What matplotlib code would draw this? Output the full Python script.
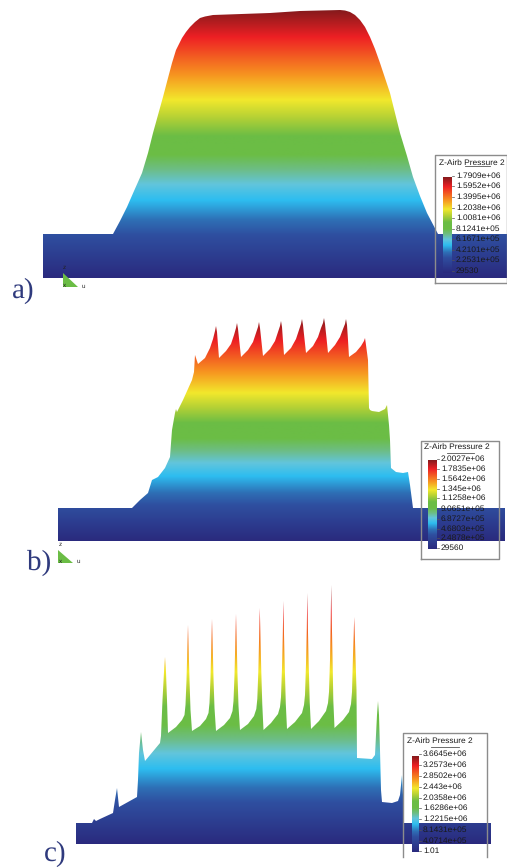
import numpy as np
import matplotlib
matplotlib.use('Agg')
import matplotlib.pyplot as plt
from matplotlib.colors import LinearSegmentedColormap
from matplotlib.patches import Polygon

plt.rcParams['font.family'] = ['Liberation Sans', 'DejaVu Sans']
plt.rcParams['text.hinting'] = 'no_hinting'

# outlines, in pixels of the reference
a_x = [43, 113, 120, 127, 134, 142, 148, 153, 158, 163, 168, 172, 176, 182, 186, 190, 195, 200, 205, 213,
       270, 300, 340, 345, 350, 355, 360, 365, 370, 375, 380, 385, 390, 395, 400, 407, 413, 420, 427, 438, 507]
a_y = [234, 234, 221, 207, 191, 173, 153, 133, 115, 97, 78, 63, 50, 38, 32, 27, 22, 18, 16.5, 15,
       13, 11, 10, 10.5, 12, 15, 20, 27, 37, 49, 63, 78, 93, 113, 133, 156, 177, 196, 213, 234, 234]

b_x = [58, 132, 140, 148, 152, 158, 165, 170, 172, 175, 176, 177, 183, 192, 194, 195, 196, 198,
       205, 210, 213, 215, 216, 217, 218, 219,
       226, 231, 234, 236, 237, 238, 239.5, 241,
       248, 253, 256, 258, 259, 260, 261.5, 263,
       270, 275, 278, 280, 281, 282, 283, 284,
       291, 296, 299, 301, 302, 303, 304.5, 306,
       313, 318, 321, 323, 324, 325, 326.5, 328,
       335, 340, 343, 345, 346, 347, 348, 349,
       356, 361, 364, 365, 366, 368, 369, 370, 372, 379, 385, 387,
       389, 390, 391, 396, 403, 408, 410, 413, 505]
b_y = [508, 508, 500, 493, 480, 477, 468, 457, 430, 413, 409, 412, 400, 380, 372, 355, 358, 364,
       358, 348, 339, 331, 326, 332, 345, 358,
       351, 344, 335, 328, 323, 329, 343, 357,
       350, 342, 333, 327, 322, 328, 342, 356,
       349, 341, 332, 326, 321, 327, 341, 355,
       348, 339, 330, 324, 319, 325, 339, 353,
       346, 337, 328, 323, 318, 324, 338, 353,
       345, 337, 329, 324, 319, 325, 340, 357,
       352, 346, 341, 338, 345, 360, 408, 410, 411, 412, 409, 405,
       425, 440, 468, 472, 473, 472, 485, 508, 508]

c_x = [76, 92, 94, 96, 100, 113, 115, 117, 119, 137, 138, 139, 141, 143, 145, 160, 161, 162.5,
       164, 165, 166, 167, 168,
       176, 182, 184.5, 185.5, 186.5, 187.3, 188, 188.7, 189.5, 190.5, 192,
       200, 206, 208.5, 209.5, 210.5, 211.3, 212, 212.7, 213.5, 214.5, 216,
       224, 230, 232.5, 233.5, 234.5, 235.3, 236, 236.7, 237.5, 238.5, 240,
       248, 254, 256.3, 257.3, 258.3, 259.1, 259.8, 260.5, 261.3, 262.3, 263.5,
       271, 278, 280, 281, 282, 282.8, 283.4, 284, 284.8, 285.8, 287,
       295, 302, 304, 305, 306, 306.8, 307.3, 307.9, 308.7, 309.7, 311,
       319, 326, 328, 329, 330, 330.7, 331.2, 331.8, 332.6, 333.3, 334.5,
       343, 349, 351, 352, 353, 353.7, 354.2, 354.8, 355.6, 356.5, 357,
       372, 375, 376, 377, 378, 379, 380, 381, 382, 392, 398, 400, 401, 402, 403, 404, 491]
c_y = [823, 823, 819, 821, 819, 813, 800, 788, 807, 797, 780, 753, 732, 750, 761, 743, 736, 700,
       672, 657, 672, 700, 733,
       727, 720, 715, 705, 680, 650, 625, 650, 680, 710, 731,
       726, 719, 713, 703, 678, 645, 619, 645, 678, 708, 731,
       725, 718, 711, 701, 675, 642, 614, 642, 675, 706, 730,
       724, 716, 709, 699, 672, 638, 608, 638, 672, 705, 730,
       723, 714, 707, 697, 668, 634, 601, 634, 668, 704, 729,
       722, 713, 705, 695, 664, 628, 593, 628, 664, 702, 729,
       721, 711, 703, 692, 660, 622, 585, 622, 660, 700, 728,
       720, 712, 704, 692, 655, 635, 617, 635, 660, 690, 758,
       759, 755, 735, 715, 701, 715, 750, 790, 802, 803, 801, 795, 785, 775, 795, 823, 823]

# bottom and top of each colour ramp
ramp_a = [278, 10]
ramp_b = [541, 318]
ramp_c = [844, 585]

a_ticks = ['1.7909e+06', '1.5952e+06', '1.3995e+06', '1.2038e+06', '1.0081e+06',
           '8.1241e+05', '6.1671e+05', '4.2101e+05', '2.2531e+05', '29530']
b_ticks = ['2.0027e+06', '1.7835e+06', '1.5642e+06', '1.345e+06', '1.1258e+06',
           '9.0651e+05', '6.8727e+05', '4.6803e+05', '2.4878e+05', '29560']
c_ticks = ['3.6645e+06', '3.2573e+06', '2.8502e+06', '2.443e+06', '2.0358e+06',
           '1.6286e+06', '1.2215e+06', '8.1431e+05', '4.0714e+05', '1.01']

cmap = LinearSegmentedColormap.from_list('airb', [
    (0.0, '#2a2a7e'), (0.16, '#2f4fa0'), (0.215, '#2e6fb5'), (0.29, '#2dbdf0'),
    (0.35, '#62c5dc'), (0.405, '#6dbd85'), (0.46, '#6bbd45'), (0.53, '#6bbd45'),
    (0.6, '#b5d135'), (0.665, '#f2e82c'), (0.76, '#f79420'), (0.9, '#ee2024'),
    (1.0, '#851a1c')])
ramp = np.linspace(1, 0, 256).reshape(-1, 1)

fig = plt.figure(figsize=(5.07, 8.67), dpi=100)
ax = fig.add_axes([0, 0, 1, 1])
ax.set_xlim(0, 507)
ax.set_ylim(867, 0)
ax.axis('off')


def profile(xs, ys, rng):
    # colour ramp first, then white over everything above the outline
    ax.imshow(ramp, cmap=cmap, vmin=0, vmax=1, aspect='auto', zorder=2,
              extent=[xs[0], xs[-1], rng[0], rng[1]])
    pts = list(zip(xs, ys)) + [(xs[-1], rng[1] - 1), (xs[0], rng[1] - 1)]
    ax.add_patch(Polygon(pts, closed=True, fc='white', ec='none', zorder=2.5))


def legend(box, bar, tick_x, tick_y, labels, title_x, title_y, line, bottom=True):
    bx = [box[0], box[0], box[2], box[2]]
    by = [box[3], box[1], box[1], box[3]]
    if bottom:
        bx.append(box[0])
        by.append(box[3])
    ax.plot(bx, by, color='#8c8c8c', lw=1.0, zorder=5)
    ax.imshow(ramp, cmap=cmap, vmin=0, vmax=1, aspect='auto', zorder=3,
              extent=[bar[0], bar[1], bar[3], bar[2]])
    ax.text(title_x, title_y, 'Z-Airb Pressure 2', fontsize=6.0, color='#1a1a1a',
            va='center', zorder=6)
    ax.plot(line[:2], [line[2], line[2]], color='#555555', lw=0.6, zorder=6)
    for lab, y in zip(labels, tick_y):
        ax.text(tick_x, y, lab, fontsize=6.0, color='#1a1a1a', va='center', zorder=6)
        ax.plot([bar[1], bar[1] + 1.5], [y, y], color='#555555', lw=0.5, zorder=6)


def triad(tri, marks):
    ax.add_patch(Polygon(tri, closed=True, fc='#6bbd45', ec='none', zorder=2))
    for s, x, y in marks:
        ax.text(x, y, s, fontsize=4.5, color='#222222', ha='center', va='center', zorder=6)


profile(a_x, a_y, ramp_a)
profile(b_x, b_y, ramp_b)
profile(c_x, c_y, ramp_c)

legend((435, 155, 507, 283), (443, 452, 177, 273), 456,
       [176, 186, 197, 208, 218, 229, 239, 250, 260, 271], a_ticks, 439, 163, (465, 490, 166))
legend((421, 441, 499, 559), (428, 437, 460, 549), 441,
       [459, 469, 479, 489, 498, 509, 519, 529, 538, 548], b_ticks, 424, 447, (447, 474, 453))
legend((403, 733, 487, 857), (412, 419, 756, 852), 423,
       [754, 765, 776, 787, 798, 808, 819, 830, 841, 851], c_ticks, 407, 741, (431, 459, 747),
       bottom=False)

triad([(63, 273), (63, 287), (78, 287)], [('z', 64, 267), ('x', 64, 285), ('u', 83, 286)])
triad([(58, 550), (58, 563), (73, 563)], [('z', 60, 544), ('x', 60, 561), ('u', 78, 561)])

for s, x, y in [('a)', 12, 291), ('b)', 27, 563), ('c)', 44, 854)]:
    ax.text(x, y, s, fontsize=21, family='Liberation Serif', color='#2f3a7d', va='center')

fig.savefig('out.png', dpi=100)
